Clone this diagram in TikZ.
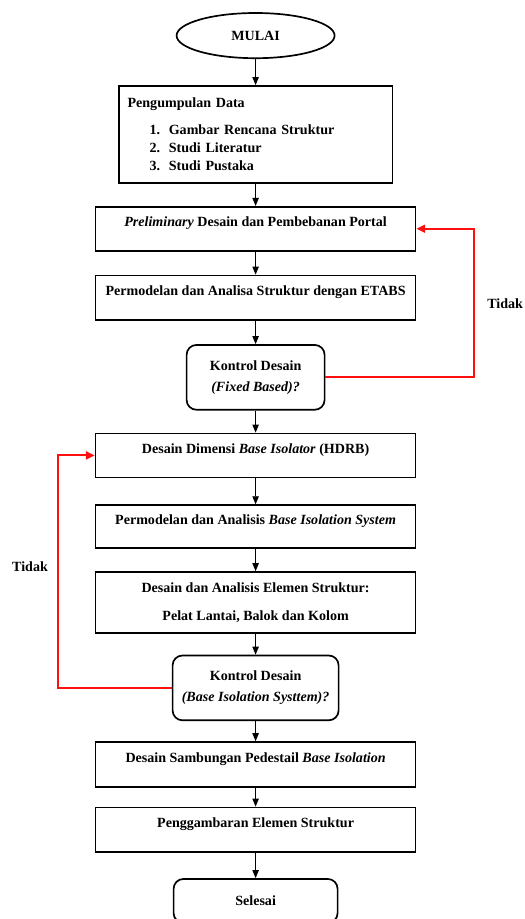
\documentclass[tikz,border=0pt]{standalone}
\usepackage{fontspec}
\setmainfont{Liberation Serif}
\usetikzlibrary{arrows.meta, positioning, shapes.geometric}
\definecolor{loopred}{HTML}{FF1010}

\begin{document}
\begin{tikzpicture}[
        node distance=0.55cm,
        every node/.style={font=\bfseries},
        box/.style={rectangle, draw, line width=1.2pt, minimum width=8cm,
                    minimum height=1.1cm, text height=7pt, text depth=10pt},
        check/.style={rectangle, draw, rounded corners=7pt, line width=1.2pt,
                      minimum height=1.62cm, align=center},
        flow/.style={-{Triangle[length=2mm, width=1.6mm]}, line width=0.6pt},
        back/.style={-{Triangle[length=2.2mm, width=2mm]}, line width=1.4pt,
                     color=loopred}
    ]
        \useasboundingbox (0,0) rectangle (13.1,-22.975);

        \node[ellipse, draw, line width=1.2pt, minimum width=3.95cm,
              minimum height=1.13cm] (mulai) at (6.39,-0.89) {MULAI};
        \node[rectangle, draw, line width=1.2pt, text width=6.4cm,
              inner xsep=0.22cm, minimum height=2.43cm, align=left,
              below=0.65cm of mulai] (data)
            {Pengumpulan Data\\[7pt]
             \hspace*{0.55cm}\makebox[0.48cm][l]{1.}Gambar Rencana Struktur\\[1pt]
             \hspace*{0.55cm}\makebox[0.48cm][l]{2.}Studi Literatur\\[1pt]
             \hspace*{0.55cm}\makebox[0.48cm][l]{3.}Studi Pustaka};
        \node[box, below=of data] (prelim)
            {\textit{Preliminary} Desain dan Pembebanan Portal};
        \node[box, minimum height=1.12cm, below=0.575cm of prelim] (etabs)
            {Permodelan dan Analisa Struktur dengan ETABS};
        \node[check, minimum width=3.45cm, below=0.575cm of etabs] (cekfixed)
            {Kontrol Desain\\[3pt]\textit{(Fixed Based)?}};
        \node[box, below=of cekfixed] (dimensi)
            {Desain Dimensi \textit{Base Isolator} (HDRB)};
        \node[box, minimum height=1.08cm, below=0.65cm of dimensi] (bis)
            {Permodelan dan Analisis \textit{Base Isolation System}};
        \node[box, minimum height=1.52cm, text height=, text depth=,
              align=center, below=of bis] (elemen)
            {Desain dan Analisis Elemen Struktur:\\[8pt]Pelat Lantai, Balok dan Kolom};
        \node[check, minimum width=4.15cm, below=0.525cm of elemen] (cekbis)
            {Kontrol Desain\\[3pt]\textit{(Base Isolation Systtem)?}};
        \node[box, minimum height=1.12cm, below=0.5cm of cekbis] (sambung)
            {Desain Sambungan Pedestail \textit{Base Isolation}};
        \node[box, minimum height=1.12cm, below=0.475cm of sambung] (gambar)
            {Penggambaran Elemen Struktur};
        \node[check, minimum width=4.1cm, minimum height=1.1cm,
              below=0.625cm of gambar] (selesai) {Selesai};

        % loop corners
        \coordinate (loopright) at (11.85,0);
        \coordinate (loopleft) at (1.45,0);

        \node (tidakA) at (12.63,-7.58) {Tidak};
        \node (tidakB) at (0.75,-14.17) {Tidak};

        \draw[flow] (mulai) -- (data);
        \draw[flow] (data) -- (prelim);
        \draw[flow] (prelim) -- (etabs);
        \draw[flow] (etabs) -- (cekfixed);
        \draw[flow] (cekfixed) -- (dimensi);
        \draw[flow] (dimensi) -- (bis);
        \draw[flow] (bis) -- (elemen);
        \draw[flow] (elemen) -- (cekbis);
        \draw[flow] (cekbis) -- (sambung);
        \draw[flow] (sambung) -- (gambar);
        \draw[flow] (gambar) -- (selesai);

        \draw[back] (cekfixed.east) -- (cekfixed.east -| loopright)
            -- (prelim.east -| loopright) -- (prelim.east);
        \draw[back] (cekbis.west) -- (cekbis.west -| loopleft)
            -- (dimensi.west -| loopleft) -- (dimensi.west);
    \end{tikzpicture}
\end{document}
